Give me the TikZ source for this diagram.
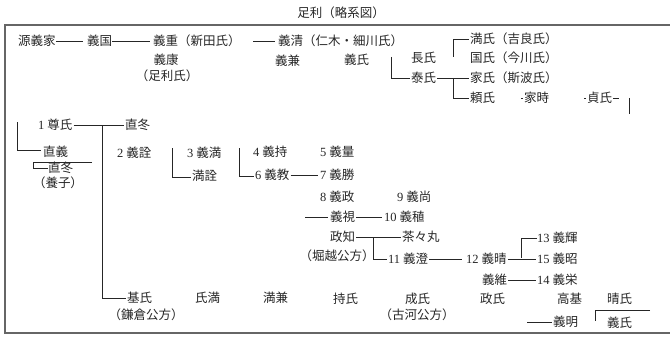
\documentclass[tikz,border=0pt]{standalone}
\usepackage{fontspec}
\newfontfamily\jpfont{Noto Sans CJK JP}
\newfontfamily\numfont{Liberation Serif}
\newcommand\nm[1]{{\numfont #1\hspace{3pt}}}
\begin{document}
\begin{tikzpicture}[x=1pt,y=-1pt,
  nm/.style={anchor=west,inner sep=0pt,font=\jpfont\fontsize{12.5}{12.5}\selectfont,text=black!85},
  cn/.style={anchor=center,inner sep=0pt,font=\jpfont\fontsize{12.5}{12.5}\selectfont,text=black!85},
  ln/.style={line width=0.6pt,black!85},
  frame/.style={line width=1.1pt,black!60}]
\useasboundingbox (0,0) rectangle (670,337);
% title and frame
\node[cn] (title) at (341,13) {足利（略系図）};
\coordinate (ftl) at (5,25);
\coordinate (ftr) at (670,25);
\coordinate (fbl) at (5,333);
\coordinate (fbr) at (670,333);
\draw[frame] (ftr) -- (ftl) -- (fbl) -- (fbr);
% row 1
\node[nm] (yoshiie) at (18,41) {源義家};
\node[nm] (yoshikuni) at (87,41) {義国};
\node[nm] (yoshishige) at (153,41) {義重（新田氏）};
\node[nm] (yoshikiyo) at (278,41) {義清（仁木・細川氏）};
\draw[ln,shorten >=4pt] (yoshiie.east) -- (yoshikuni.west);
\draw[ln,shorten >=3pt] (yoshikuni.east) -- (yoshishige.west);
\coordinate (c1) at (253,41);
\draw[ln,shorten >=3pt] (c1) -- (yoshikiyo.west);
% row 2
\node[cn] (yoshiyasu) at (166,60) {義康};
\node[cn] (ashikagashi) at (167,76) {（足利氏）};
\node[nm] (yoshikane) at (275,61) {義兼};
\node[nm] (yoshiuji) at (344,60) {義氏};
\node[nm] (osauji) at (411,58) {長氏};
\node[nm] (yasuuji) at (411,78) {泰氏};
\node[nm] (mitsuuji) at (470,39) {満氏（吉良氏）};
\node[nm] (kuniuji) at (470,58) {国氏（今川氏）};
\node[nm] (ieuji) at (470,78) {家氏（斯波氏）};
\node[nm] (yoriuji) at (470,98) {頼氏};
\node[nm] (ietoki) at (524,98) {家時};
\node[nm] (sadauji) at (587,98) {貞氏};
\coordinate (v1t) at (391,57);
\coordinate (v1b) at (391,78);
\draw[ln,shorten >=1pt] (v1t) -- (v1b) -- (yasuuji.west);
\coordinate (v2t) at (453,39);
\coordinate (v2b) at (453,57);
\draw[ln,shorten <=1pt] (mitsuuji.west) -- (v2t) -- (v2b);
\coordinate (v3) at (453,78);
\coordinate (v3b) at (453,98);
\draw[ln,shorten <=1pt,shorten >=1pt] (yasuuji.east) -- (ieuji.west);
\draw[ln,shorten >=1pt] (v3) -- (v3b) -- (yoriuji.west);
\coordinate (t1) at (521,98);
\draw[ln,shorten >=1pt] (t1) -- (ietoki.west);
\coordinate (t2) at (584,98);
\draw[ln,shorten >=1pt] (t2) -- (sadauji.west);
\coordinate (v4t) at (629,98);
\coordinate (v4b) at (629,114);
\coordinate (t3) at (613,98);
\draw[ln] (t3) -- ++(6,0);
\draw[ln] (v4t) -- (v4b);
% left block
\node[nm] (takauji) at (38,125) {\nm{1}尊氏};
\node[nm] (tadafuyu) at (125,125) {直冬};
\node[nm] (tadayoshi) at (43,152) {直義};
\node[nm] (tadafuyu2) at (48,168) {直冬};
\node[cn] (yoshi) at (58,183) {（養子）};
\coordinate (v5t) at (17,122);
\coordinate (v5b) at (17,150);
\draw[ln,shorten >=2pt] (v5t) -- (v5b) -- (tadayoshi.west |- v5b);
\coordinate (h6a) at (33,162);
\coordinate (h6b) at (92,162);
\coordinate (h6c) at (33,168);
\draw[ln] (h6b) -- (h6a) -- (h6c) -- (tadafuyu2.west);
\coordinate (v7t) at (102,125);
\coordinate (v7b) at (102,298);
\draw[ln,shorten <=1pt,shorten >=1pt] (takauji.east) -- (tadafuyu.west);
% generations
\node[nm] (yoshiakira) at (117,153) {\nm{2}義詮};
\node[nm] (yoshimitsu) at (187,153) {\nm{3}義満};
\node[nm] (mitsuakira) at (192,176) {満詮};
\node[nm] (yoshimochi) at (253,152) {\nm{4}義持};
\node[nm] (yoshikazu) at (320,152) {\nm{5}義量};
\node[nm] (yoshinori) at (255,175) {\nm{6}義教};
\node[nm] (yoshikatsu) at (320,175) {\nm{7}義勝};
\node[nm] (yoshimasa) at (320,197) {\nm{8}義政};
\node[nm] (yoshihisa) at (397,197) {\nm{9}義尚};
\node[nm] (yoshimi) at (330,217) {義視};
\node[nm] (yoshitane) at (384,217) {\nm{10}義稙};
\node[nm] (masatomo) at (330,237) {政知};
\node[cn] (horigoe) at (337,256) {（堀越公方）};
\node[nm] (chachamaru) at (402,237) {茶々丸};
\node[nm] (yoshizumi) at (388,259) {\nm{11}義澄};
\node[nm] (yoshiharu) at (466,259) {\nm{12}義晴};
\node[nm] (yoshiteru) at (537,238) {\nm{13}義輝};
\node[nm] (yoshiaki) at (537,259) {\nm{15}義昭};
\node[nm] (yoshitsuna) at (482,280) {義維};
\node[nm] (yoshihide) at (537,280) {\nm{14}義栄};
\coordinate (v8t) at (172,148);
\coordinate (v8b) at (172,177);
\draw[ln,shorten >=1pt] (v8t) -- (v8b) -- (mitsuakira.west |- v8b);
\coordinate (v9t) at (239,148);
\coordinate (v9b) at (239,176);
\draw[ln,shorten >=1pt] (v9t) -- (v9b) -- (yoshinori.west |- v9b);
\draw[ln,shorten <=1pt,shorten >=2pt] (yoshinori.east) -- (yoshikatsu.west);
\coordinate (c2) at (305,217);
\draw[ln,shorten >=2pt] (c2) -- (yoshimi.west);
\draw[ln,shorten <=1pt,shorten >=2pt] (yoshimi.east) -- (yoshitane.west);
\coordinate (v10t) at (373,237);
\coordinate (v10b) at (373,259);
\draw[ln,shorten <=1pt,shorten >=1pt] (masatomo.east) -- (chachamaru.west);
\draw[ln,shorten >=1pt] (v10t) -- (v10b) -- (yoshizumi.west);
\draw[ln,shorten <=1pt,shorten >=4pt] (yoshizumi.east) -- (yoshiharu.west);
\coordinate (v11t) at (521,238);
\coordinate (v11b) at (521,259);
\draw[ln,shorten <=1pt,shorten >=1pt] (yoshiharu.east) -- (yoshiaki.west);
\draw[ln,shorten >=1pt] (yoshiteru.west) -- (v11t) -- (v11b);
\draw[ln,shorten <=1pt,shorten >=1pt] (yoshitsuna.east) -- (yoshihide.west);
% Kanto kubo
\node[nm] (motouji) at (127,298) {基氏};
\node[cn] (kamakura) at (146,315) {（鎌倉公方）};
\node[nm] (ujimitsu) at (195,298) {氏満};
\node[nm] (mitsukane) at (263,298) {満兼};
\node[nm] (mochiuji) at (333,299) {持氏};
\node[nm] (shigeuji) at (405,299) {成氏};
\node[cn] (koga) at (417,315) {（古河公方）};
\node[nm] (masauji) at (480,299) {政氏};
\node[nm] (takamoto) at (557,299) {高基};
\node[nm] (haruuji) at (607,299) {晴氏};
\node[nm] (yoshiaki2) at (553,322) {義明};
\node[nm] (yoshiuji2) at (607,323) {義氏};
\draw[ln,shorten >=1pt] (v7t) -- (v7b) -- (motouji.west);
\coordinate (h12a) at (650,310);
\coordinate (h12b) at (595,310);
\coordinate (h12c) at (595,321);
\draw[ln] (h12a) -- (h12b) -- (h12c);
\coordinate (c3) at (527,322);
\draw[ln,shorten >=1pt] (c3) -- (yoshiaki2.west);
\end{tikzpicture}
\end{document}
